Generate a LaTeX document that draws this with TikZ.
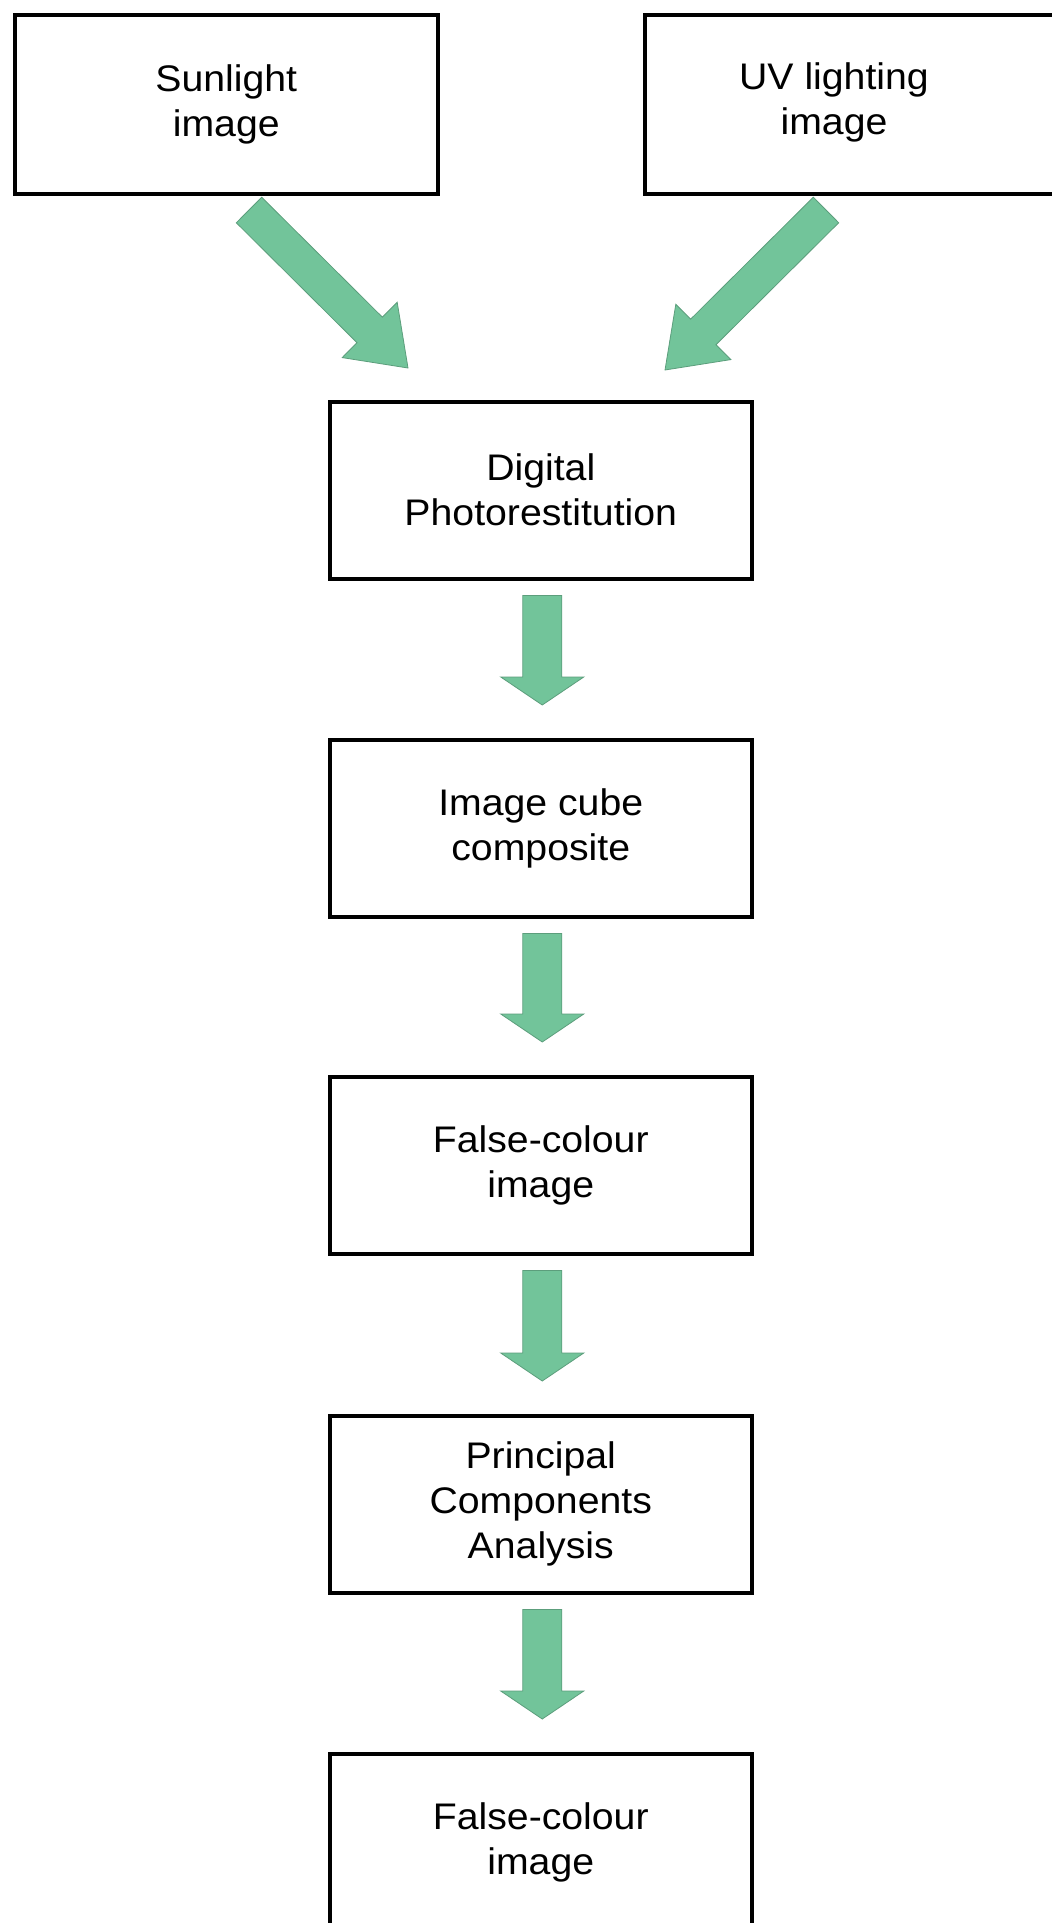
\documentclass[tikz,border=0pt]{standalone}
\usepackage{fontspec}
\setmainfont{Liberation Sans}[FakeStretch=1.06]
\usetikzlibrary{calc}
\definecolor{arrowgreen}{RGB}{114,196,154}
\definecolor{arrowedge}{RGB}{92,158,124}
\newcommand\fatarr[5]{%
  \coordinate (fa-h) at ($(#2)!#5!(#1)$);
  \filldraw[fatarrow] ($(#1)!#3!90:(#2)$) -- ($(fa-h)!#3!-90:(#1)$) -- ($(fa-h)!#4!-90:(#1)$) -- (#2) -- ($(fa-h)!#4!90:(#1)$) -- ($(fa-h)!#3!90:(#1)$) -- ($(#1)!#3!-90:(#2)$) -- cycle;}
\begin{document}
\begin{tikzpicture}[x=1pt,y=1pt,
  box/.style={draw=black, line width=3.5pt, fill=white, minimum width=422pt, minimum height=177pt,
    align=center, inner sep=0pt, anchor=north west, font=\fontsize{37}{45}\selectfont},
  lbl/.style={align=center, inner sep=0pt, font=\fontsize{37}{45}\selectfont},
  fatarrow/.style={fill=arrowgreen, draw=arrowedge, line width=0.8pt, line join=miter}]
\useasboundingbox (0,0) rectangle (1052,-1923);
\clip (0,0) rectangle (1052,-1923);
\fill[white] (0,0) rectangle (1052,-1923);
% boxes
\node[box, minimum width=423pt, minimum height=179pt] (sun) at (13,-13) {Sunlight\\image};
\node[box, minimum width=440pt, minimum height=179pt] (uv) at (643,-13) {};
\node[lbl] (uvt) at (834,-102.5) {UV lighting\\image};
\node[box] (dig) at (328,-400) {Digital\\Photorestitution};
\node[box] (cube) at (328,-738) {Image cube\\composite};
\node[box] (fc1) at (328,-1075) {False-colour\\image};
\node[box] (pca) at (328,-1414) {Principal\\Components\\Analysis};
\node[box] (fc2) at (328,-1752) {False-colour\\image};
% arrow end points
\coordinate (a1s) at (249,-210);
\coordinate (a1e) at (408,-368);
\coordinate (a2s) at (826,-210);
\coordinate (a2e) at (665,-370);
\coordinate (a3s) at ($(dig.south)+(1.5,-15)$);
\coordinate (a3e) at ($(cube.north)+(1.5,33)$);
\coordinate (a4s) at ($(cube.south)+(1.5,-15)$);
\coordinate (a4e) at ($(fc1.north)+(1.5,33)$);
\coordinate (a5s) at ($(fc1.south)+(1.5,-15)$);
\coordinate (a5e) at ($(pca.north)+(1.5,33)$);
\coordinate (a6s) at ($(pca.south)+(1.5,-15)$);
\coordinate (a6e) at ($(fc2.north)+(1.5,33)$);
% arrows
\fatarr{a1s}{a1e}{18pt}{39pt}{54pt}
\fatarr{a2s}{a2e}{18pt}{39pt}{54pt}
\fatarr{a3s}{a3e}{19.5pt}{41.5pt}{28pt}
\fatarr{a4s}{a4e}{19.5pt}{41.5pt}{28pt}
\fatarr{a5s}{a5e}{19.5pt}{41.5pt}{28pt}
\fatarr{a6s}{a6e}{19.5pt}{41.5pt}{28pt}
\end{tikzpicture}
\end{document}
